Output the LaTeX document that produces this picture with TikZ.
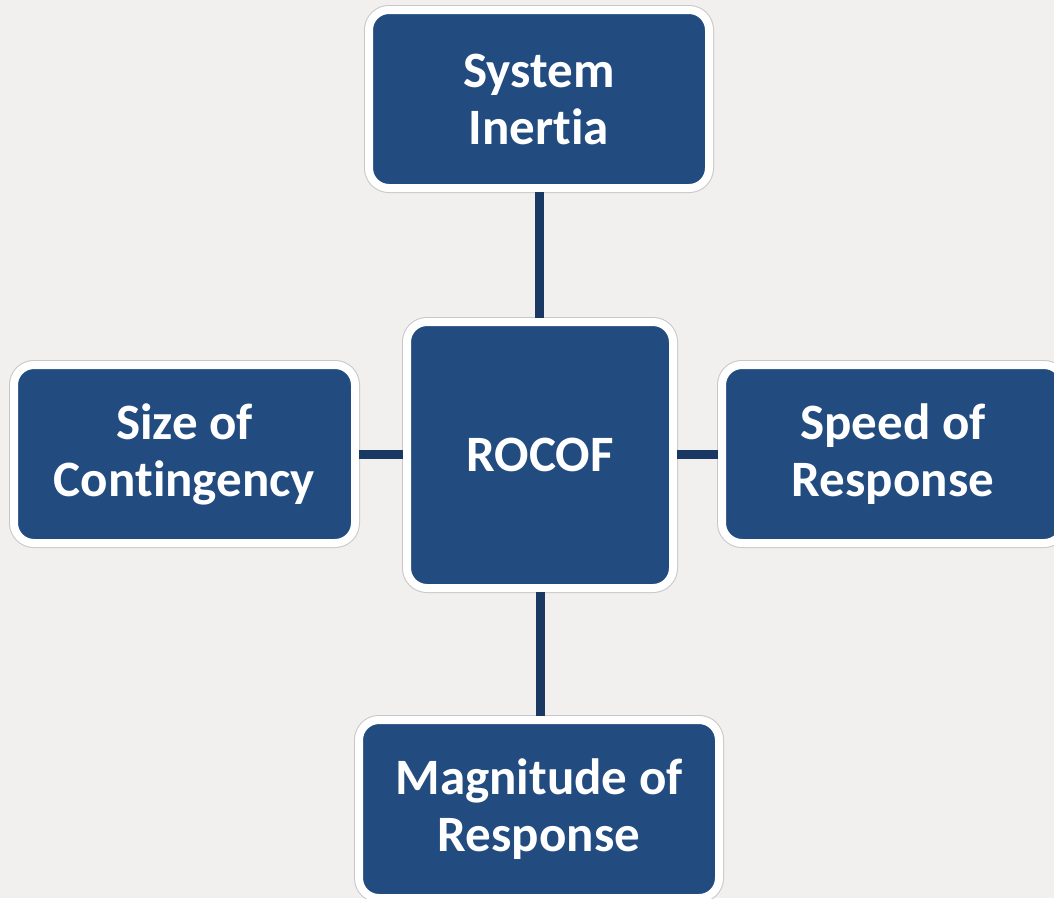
\documentclass[tikz,border=0pt]{standalone}
\usepackage{fontspec}
\setmainfont[Ligatures=NoCommon]{Carlito}
\definecolor{boxblue}{HTML}{224C80}
\definecolor{linkblue}{HTML}{193963}
\definecolor{bggray}{HTML}{F1F0EE}
\begin{document}
\begin{tikzpicture}[x=1pt,y=1pt,
  card/.style={rectangle, rounded corners=20pt, fill=boxblue, draw=white, line width=8pt,
    preaction={draw=black!22, line width=10pt},
    text=white, align=center, inner sep=0pt,
    font=\fontsize{51}{57}\selectfont\bfseries},
  link/.style={draw=linkblue, line width=9pt, line cap=butt}]
\useasboundingbox (0,0) rectangle (1054,-898);
\clip (0,0) rectangle (1054,-898);
\fill[bggray] (0,0) rectangle (1054,-898);
\node[card, minimum width=340pt, minimum height=178pt] (sys) at (539,-99) {System\\Inertia};
\node[card, minimum width=266pt, minimum height=266pt] (rocof) at (540,-455) {ROCOF};
\node[card, minimum width=341pt, minimum height=178pt] (size) at (184.5,-454) {Size of\\Contingency};
\node[card, minimum width=342pt, minimum height=178pt] (speed) at (893,-454) {Speed of\\Response};
\node[card, minimum width=360pt, minimum height=178pt] (mag) at (539,-809) {Magnitude of\\Response};
\draw[link] (sys.south) -- (sys.south |- rocof.north);
\draw[link] (rocof.south) -- (rocof.south |- mag.north);
\draw[link] (size.east) -- (rocof.west |- size.east);
\draw[link] (rocof.east |- speed.west) -- (speed.west);
\end{tikzpicture}
\end{document}
